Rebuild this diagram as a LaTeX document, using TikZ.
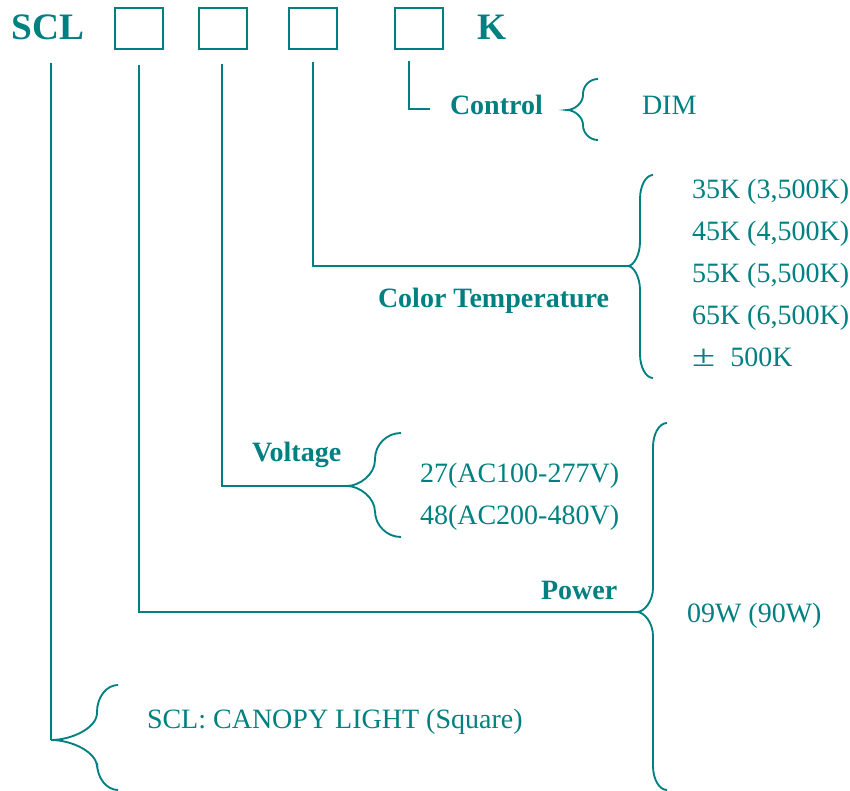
\documentclass[tikz,border=0pt]{standalone}
\usepackage{fontspec}
\setmainfont{Liberation Serif}
\definecolor{tl}{RGB}{0,128,128}
% #1 tip x, #2 tip y, #3 shaft x, #4 end x, #5 top y, #6 bottom y, #7 curl radius
\newcommand\bracedraw[7]{%
  \draw[brc] (#4,#5)
    .. controls ({#4-0.55*(#4-#3)},#5) and (#3,{#5+0.45*#7}) .. (#3,{#5+#7})
    -- (#3,{#2-#7})
    .. controls (#3,{#2-0.45*#7}) and ({#3-0.55*(#3-#1)},#2) .. (#1,#2)
    .. controls ({#3-0.55*(#3-#1)},#2) and (#3,{#2+0.45*#7}) .. (#3,{#2+#7})
    -- (#3,{#6-#7})
    .. controls (#3,{#6-0.45*#7}) and ({#4-0.55*(#4-#3)},#6) .. (#4,#6);}
\begin{document}
\begin{tikzpicture}[x=0.75pt,y=-0.75pt,
  every node/.style={inner sep=0pt,outer sep=0pt,text=tl},
  hdr/.style={anchor=base west,font=\fontsize{28}{30}\selectfont\bfseries},
  lbl/.style={anchor=base west,font=\fontsize{21}{24}\selectfont\bfseries},
  val/.style={anchor=base west,font=\fontsize{21}{24}\selectfont},
  codebox/.style={draw=tl,line width=1.5pt,minimum width=36pt,minimum height=30.75pt,anchor=north west},
  ln/.style={draw=tl,line width=1.4pt},
  brc/.style={draw=tl,line width=1.4pt}]
\useasboundingbox (0,0) rectangle (850,791);
% header
\node[hdr] (scl) at (12,40) {SCL};
\node[codebox] (b1) at (115,8) {};
\node[codebox] (b2) at (199,8) {};
\node[codebox] (b3) at (289,8) {};
\node[codebox] (b4) at (395,8) {};
\node[hdr] (k) at (477,40) {K};
% labels
\node[lbl] (control) at (450,115) {Control};
\node[val] (dim) at (642,115) {DIM};
\node[lbl] (ct) at (378,308) {Color Temperature};
\node[val] (t1) at (692,199) {35K (3,500K)};
\node[val] (t2) at (692,241) {45K (4,500K)};
\node[val] (t3) at (692,283) {55K (5,500K)};
\node[val] (t4) at (692,325) {65K (6,500K)};
\node[val] (t5) at (692,367) {\scalebox{1.5}[1.1]{±}\hspace{0.55em}500K};
\node[lbl] (volt) at (252,462) {Voltage};
\node[val] (v1) at (420,483) {27(AC100-277V)};
\node[val] (v2) at (420,524) {48(AC200-480V)};
\node[lbl] (pow) at (541,599) {Power};
\node[val] (w1) at (687,622) {09W (90W)};
\node[val] (desc) at (147,728) {SCL: CANOPY LIGHT (Square)};
% connector ends
\coordinate (s1) at (51,63);   \coordinate (e1) at (51,740);
\coordinate (s2) at (139,65);  \coordinate (e2) at (637,612);
\coordinate (s3) at (222,64);  \coordinate (e3) at (347,486);
\coordinate (s4) at (313,62);  \coordinate (e4) at (628,266);
\coordinate (s5) at (409,61);  \coordinate (e5) at (430,109);
\draw[ln] (s1) -- (e1);
\draw[ln] (s2) |- (e2);
\draw[ln] (s3) |- (e3);
\draw[ln] (s4) |- (e4);
\draw[ln] (s5) |- (e5);
% braces
\bracedraw{567}{110}{583}{598}{79}{140}{15}
\bracedraw{628}{266}{640}{653}{175}{378}{24}
\bracedraw{347}{486}{375}{401}{433}{537}{26}
\bracedraw{637}{612}{653}{667}{423}{790}{24}
\bracedraw{51}{740}{97}{118}{685}{790}{27}
\end{tikzpicture}
\end{document}
